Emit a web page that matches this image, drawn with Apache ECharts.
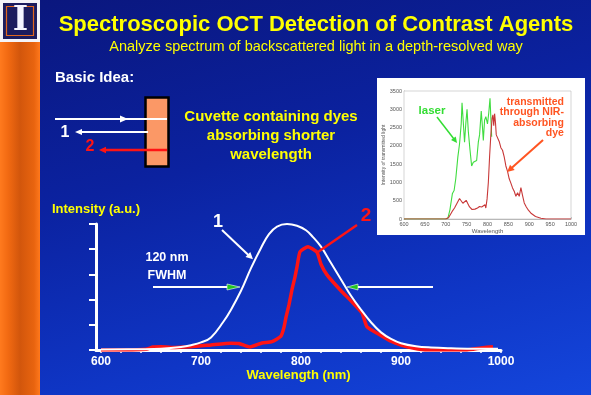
<!DOCTYPE html>
<html>
<head>
<meta charset="utf-8">
<script src="https://cdn.jsdelivr.net/npm/echarts@6/dist/echarts.min.js"></script>
<style>
  html, body { margin: 0; padding: 0; }
  body {
    width: 591px; height: 395px; overflow: hidden;
    background: linear-gradient(165deg, #0a167c 0%, #0b22a0 40%, #0f36c6 75%, #1446dc 100%);
  }
  #chart { width: 591px; height: 395px; }
</style>
</head>
<body>
<div id="chart"></div>
<script>
// ---- Main spectra (wavelength in nm, intensity in arbitrary units) ----
const wavelengthLabels = [600, 700, 800, 900, 1000];
const wavelengthTicks = [600, 620, 640, 660, 680, 700, 720, 740, 760, 780, 800,
  820, 840, 860, 880, 900, 920, 940, 960, 980, 1000];

// curve 1: source spectrum
const sourceSpectrum = [
  [600, 0.02], [640, 0.03], [660, 0.05], [680, 0.12], [690, 0.19], [700, 0.3],
  [710, 0.5], [722, 1.1], [730, 1.6], [740, 2.35], [750, 3.25], [760, 4.05],
  [768, 4.6], [776, 4.9], [786, 5.0], [796, 4.93], [805, 4.75], [812, 4.48], [820, 4.1],
  [830, 3.45], [840, 2.8], [850, 2.15], [860, 1.6], [870, 1.1], [880, 0.7],
  [890, 0.44], [900, 0.27], [915, 0.15], [930, 0.1], [950, 0.07], [975, 0.05], [997, 0.05]
];

// curve 2: spectrum after the dye
const filteredSpectrum = [
  [600, 0], [625, 0], [645, 0.03], [652, 0.12], [660, 0.13], [670, 0.1], [690, 0.13],
  [710, 0.2], [730, 0.27], [738, 0.26], [749, 0.12], [761, 0.28], [771, 0.33],
  [780, 0.55], [783, 0.9], [785, 1.3], [788, 1.8], [791, 2.4], [794, 2.9], [796, 3.3],
  [799, 3.9], [807, 4.1], [816, 3.88], [820, 3.4], [826, 2.98], [840, 2.35], [850, 1.95],
  [861, 1.47], [866, 0.92], [880, 0.58], [890, 0.35], [900, 0.2], [912, 0.08],
  [926, 0], [966, 0], [980, 0.08], [992, 0.13]
];

// ---- Measured spectra (wavelength, counts) ----
const laserCounts = [
  [600, 0], [650, 0], [700, 0], [705, 20], [710, 250], [716, 700], [720, 780],
  [724, 1100], [729, 1700], [733, 2050], [737, 2600], [739, 3180], [742, 2650],
  [745, 2100], [748, 2600], [751, 3000], [754, 2400], [758, 1900], [762, 1450],
  [766, 1550], [770, 1600], [774, 1600], [778, 2100], [781, 2300], [785, 2950],
  [788, 2500], [790, 2150], [793, 2700], [796, 2800], [800, 2600], [803, 2900],
  [806, 3300], [810, 2250]
];
const dyeCounts = [
  [600, 0], [650, 0], [700, 0], [707, 40], [715, 200], [721, 300], [727, 430],
  [733, 560], [737, 570], [741, 430], [745, 470], [749, 510], [753, 420], [757, 330],
  [763, 260], [770, 270], [776, 300], [781, 340], [786, 330], [790, 360], [794, 390],
  [796, 300], [799, 550], [802, 1000], [805, 1700], [808, 2300], [811, 2750],
  [813, 2850], [815, 2550], [817, 2880], [819, 2650], [821, 2300], [824, 2250],
  [828, 2120], [832, 1950], [836, 1880], [840, 1700], [844, 1450], [848, 1300],
  [852, 1100], [856, 980], [860, 850], [864, 760], [868, 620], [872, 720], [876, 620],
  [880, 860], [884, 640], [888, 440], [893, 330], [898, 240], [905, 150], [915, 70],
  [928, 20], [940, 0], [1000, 0]
];
const insetWavelengthLabels = [600, 650, 700, 750, 800, 850, 900, 950, 1000];

const FONT = '"Liberation Sans", Arial, sans-serif';
const YELLOW = '#ffff00';
const RED = '#ff1414';
const plain = v => String(v);

const chart = echarts.init(document.getElementById('chart'), null, { renderer: 'canvas' });

const option = {
  backgroundColor: 'transparent',
  animation: false,
  grid: [
    { left: 96, width: 405, top: 224, height: 126, show: false },
    { left: 404, width: 167, top: 91, height: 128, show: true,
      backgroundColor: '#ffffff', borderColor: '#b8b8b8', borderWidth: 0.6, z: 1 }
  ],
  xAxis: [
    {
      gridIndex: 0, type: 'value', min: 595, max: 1000,
      name: 'Wavelength (nm)', nameLocation: 'middle', nameGap: 19,
      nameTextStyle: { color: YELLOW, fontWeight: 'bold', fontSize: 13, fontFamily: FONT },
      axisLine: { show: true, lineStyle: { color: '#fff', width: 3 } },
      axisTick: { show: true, customValues: wavelengthTicks, length: 3, lineStyle: { color: '#fff', width: 1.5 } },
      axisLabel: { customValues: wavelengthLabels, formatter: plain, color: '#fff', fontWeight: 'bold', fontSize: 12, fontFamily: FONT, margin: 6 },
      splitLine: { show: false }
    },
    {
      gridIndex: 1, type: 'value', min: 600, max: 1000, interval: 50,
      name: 'Wavelength', nameLocation: 'middle', nameGap: 8,
      nameTextStyle: { color: '#555', fontSize: 6, fontFamily: FONT },
      axisLine: { show: true, lineStyle: { color: '#9a9a9a', width: 0.7 } },
      axisTick: { show: true, inside: true, length: 2, lineStyle: { color: '#9a9a9a', width: 0.6 } },
      axisLabel: { customValues: insetWavelengthLabels, formatter: plain, color: '#555', fontSize: 5.5, fontFamily: FONT, margin: 2 },
      splitLine: { show: false }
    }
  ],
  yAxis: [
    {
      gridIndex: 0, type: 'value', min: 0, max: 5, interval: 1,
      name: 'Intensity (a.u.)', nameLocation: 'end', nameGap: 8,
      nameTextStyle: { color: YELLOW, fontWeight: 'bold', fontSize: 13, fontFamily: FONT },
      axisLine: { show: true, lineStyle: { color: '#fff', width: 3 } },
      axisTick: { show: true, length: 7, lineStyle: { color: '#fff', width: 2 } },
      axisLabel: { show: false },
      splitLine: { show: false }
    },
    {
      gridIndex: 1, type: 'value', min: 0, max: 3500, interval: 500,
      name: 'Intensity of transmitted light', nameLocation: 'middle', nameGap: 12,
      nameTextStyle: { color: '#555', fontSize: 5, fontFamily: FONT },
      axisLine: { show: true, lineStyle: { color: '#9a9a9a', width: 0.7 } },
      axisTick: { show: true, inside: true, length: 2, lineStyle: { color: '#9a9a9a', width: 0.6 } },
      axisLabel: { formatter: plain, color: '#555', fontSize: 5.5, fontFamily: FONT, margin: 2 },
      splitLine: { show: false }
    }
  ],
  series: [
    {
      type: 'line', xAxisIndex: 0, yAxisIndex: 0, data: filteredSpectrum,
      symbol: 'none', smooth: 0.15, lineStyle: { color: RED, width: 3.5 }, z: 3
    },
    {
      type: 'line', xAxisIndex: 0, yAxisIndex: 0, data: sourceSpectrum,
      symbol: 'none', smooth: 0.4, lineStyle: { color: '#ffffff', width: 2 }, z: 4
    },
    {
      type: 'line', xAxisIndex: 1, yAxisIndex: 1, data: laserCounts,
      symbol: 'none', lineStyle: { color: '#3fdc3f', width: 1.1 }, z: 3
    },
    {
      type: 'line', xAxisIndex: 1, yAxisIndex: 1, data: dyeCounts,
      symbol: 'none', lineStyle: { color: '#c83838', width: 1.1 }, z: 4
    }
  ]
};
chart.setOption(option);

// ---- annotations and slide decoration ----
function px(grid, p) { return chart.convertToPixel({ gridIndex: grid }, p); }

function arrow(a, b, color, width, head, half, z) {
  const dx = b[0] - a[0], dy = b[1] - a[1];
  const L = Math.hypot(dx, dy), ux = dx / L, uy = dy / L;
  const base = [b[0] - ux * head, b[1] - uy * head];
  return [
    { type: 'line', z: z, shape: { x1: a[0], y1: a[1], x2: base[0] + ux, y2: base[1] + uy },
      style: { stroke: color, lineWidth: width } },
    { type: 'polygon', z: z, shape: { points: [b, [base[0] - uy * half, base[1] + ux * half], [base[0] + uy * half, base[1] - ux * half]] },
      style: { fill: color } }
  ];
}

function text(str, x, y, size, color, opts) {
  return {
    type: 'text', z: 50,
    style: Object.assign({
      text: str, x: x, y: y, fill: color,
      font: (opts && opts.weight ? opts.weight : 'bold') + ' ' + size + 'px ' + FONT,
      align: 'center', verticalAlign: 'middle'
    }, opts && opts.style ? opts.style : {})
  };
}

function halfMaxMarker(tipVal, baseVal, lineEndVal, level) {
  const tip = px(0, [tipVal, level]);
  const base = px(0, [baseVal, level]);
  const end = px(0, [lineEndVal, level]);
  return [
    { type: 'line', z: 40, shape: { x1: end[0], y1: end[1], x2: base[0], y2: base[1] },
      style: { stroke: '#fff', lineWidth: 2 } },
    { type: 'polygon', z: 41, shape: { points: [tip, [base[0], base[1] - 3], [base[0], base[1] + 3]] },
      style: { fill: '#22c422', stroke: '#ffffff', lineWidth: 0.6 } }
  ];
}

const g = [];

// left orange band with logo
g.push({ type: 'rect', z: -20, shape: { x: 0, y: 0, width: 40, height: 395 },
  style: { fill: new echarts.graphic.LinearGradient(0, 0, 1, 0, [
    { offset: 0, color: '#ff7a1e' }, { offset: 0.2, color: '#f26a12' },
    { offset: 0.5, color: '#d2560c' }, { offset: 0.85, color: '#e8640f' }, { offset: 1, color: '#ff781c' }]) } });
g.push({ type: 'rect', z: -19, shape: { x: 0, y: 0, width: 40, height: 42 }, style: { fill: '#f4f4f8' } });
g.push({ type: 'rect', z: -18, shape: { x: 3, y: 3, width: 34, height: 36 }, style: { fill: '#1c1c5e' } });
g.push({ type: 'rect', z: -17, shape: { x: 6.5, y: 6.5, width: 27, height: 29 }, style: { fill: 'none', stroke: '#e0661e', lineWidth: 1.2 } });
g.push({ type: 'text', z: -16, style: { text: 'I', x: 20.5, y: 21.5, fill: '#f4f4ff',
  font: 'bold 33px "DejaVu Serif", serif', align: 'center', verticalAlign: 'middle' } });

// titles
g.push(text('Spectroscopic OCT Detection of Contrast Agents', 316, 25, 22, YELLOW));
g.push(text('Analyze spectrum of backscattered light in a depth-resolved way', 316, 47, 14.5, YELLOW, { weight: 'normal' }));
g.push(text('Basic Idea:', 55, 78, 15, '#ffffff', { style: { align: 'left' } }));

// cuvette sketch
g.push({ type: 'rect', z: 20, shape: { x: 145.5, y: 97.5, width: 23, height: 69 },
  style: { fill: '#fb9866', stroke: '#000', lineWidth: 2.5 } });
g.push({ type: 'line', z: 21, shape: { x1: 55, y1: 119, x2: 167, y2: 119 }, style: { stroke: '#fff', lineWidth: 2 } });
g.push({ type: 'polygon', z: 21, shape: { points: [[128, 119], [120, 115.5], [120, 122.5]] }, style: { fill: '#fff' } });
g.push(...arrow([148, 132], [75, 132], '#ffffff', 2, 7, 3, 21));
g.push(...arrow([167, 150], [99, 150], RED, 2.5, 7, 3.2, 21));
g.push(text('1', 65, 133, 16, '#ffffff'));
g.push(text('2', 90, 147, 16, RED));
g.push(text('Cuvette containing dyes\nabsorbing shorter\nwavelength', 271, 136, 15, YELLOW, { style: { lineHeight: 19 } }));

// main chart annotations (anchored in data coordinates)
const c1 = px(0, [717, 5.08]);
g.push(text('1', c1[0], c1[1], 18, '#ffffff'));
g.push(...arrow(px(0, [721, 4.76]), px(0, [752, 3.6]), '#ffffff', 2, 7, 3.5, 45));
const c2 = px(0, [865, 5.32]);
g.push(text('2', c2[0], c2[1], 19, RED));
const l2a = px(0, [856, 4.96]), l2b = px(0, [817, 3.89]);
g.push({ type: 'line', z: 45, shape: { x1: l2a[0], y1: l2a[1], x2: l2b[0], y2: l2b[1] }, style: { stroke: RED, lineWidth: 2.5 } });
const f1 = px(0, [666, 3.65]);
g.push(text('120 nm\nFWHM', f1[0], f1[1] + 8.5, 12.5, '#ffffff', { style: { lineHeight: 18 } }));
g.push(...halfMaxMarker(739, 726, 652, 2.5));
g.push(...halfMaxMarker(846, 857, 932, 2.5));

// measured-spectra panel
g.push({ type: 'rect', z: -5, shape: { x: 377, y: 78, width: 208, height: 157 }, style: { fill: '#ffffff' } });
const lz = px(1, [667, 2953]);
g.push(text('laser', lz[0], lz[1], 11.5, '#33dd33'));
g.push(...arrow(px(1, [679, 2790]), px(1, [727, 2078]), '#33dd33', 1.5, 6, 3, 45));
const tr = px(1, [983, 2770]);
g.push(text('transmitted\nthrough NIR-\nabsorbing\ndye', tr[0], tr[1], 10.5, '#ff5522', { style: { align: 'right', lineHeight: 10.4 } }));
g.push(...arrow(px(1, [933, 2160]), px(1, [847, 1285]), '#ff5522', 2, 7, 3.5, 45));

chart.setOption({ graphic: { elements: g } });
</script>
</body>
</html>
